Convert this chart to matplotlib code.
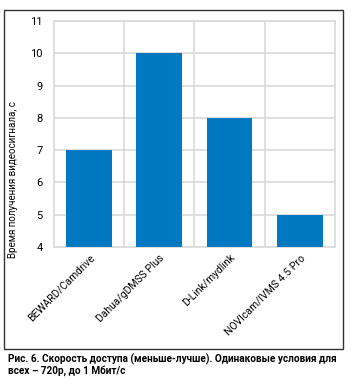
import matplotlib.pyplot as plt
from matplotlib.patches import Rectangle

systems = ['BEWARD/Camdrive', 'Dahua/gDMSS Plus', 'D-Link/mydlink', 'NOVIcam/IVMS 4.5 Pro']
access_time = [7, 10, 8, 5]

plt.rcParams['font.family'] = ['Roboto', 'DejaVu Sans']

fig = plt.figure(figsize=(3.52, 3.90), dpi=100)
ax = fig.add_axes([0.153, 0.367, 0.799, 0.579])

x = range(len(systems))
ax.bar(x, access_time, width=0.65, color='#0079c1', zorder=3)

ax.set_xlim(-0.5, len(systems) - 0.5)
ax.set_ylim(4, 11)
ax.set_yticks(range(4, 12))
ax.set_xticks(list(x))
ax.set_xticklabels(systems, rotation=45, ha='right', rotation_mode='anchor', fontsize=7.5)
ax.tick_params(axis='y', labelsize=8, length=0, pad=8)
ax.tick_params(axis='x', length=0, pad=4)

# vertical separators between categories
for b in [0.5, 1.5, 2.5]:
    ax.axvline(b, color='#d9d9d9', lw=1.2, zorder=1)
ax.yaxis.grid(True, color='#d9d9d9', lw=1.2, zorder=1)
for s in ax.spines.values():
    s.set_color('#d9d9d9')
    s.set_linewidth(1.2)

ax.set_ylabel('Время получения видеосигнала, с', fontsize=7)
ax.yaxis.set_label_coords(-0.128, 0.3)

# frame around the chart
fig.patches.append(Rectangle((4 / 352, 41 / 390), 339 / 352, 339 / 390,
                             transform=fig.transFigure, fill=False,
                             edgecolor='#333333', lw=1.0))

fig.text(8 / 352, 1 - 364.5 / 390,
         'Рис. 6. Скорость доступа (меньше-лучше). Одинаковые условия для\nвсех – 720р, до 1 Мбит/с',
         fontsize=7.2, fontweight='bold', ha='left', va='center', linespacing=1.0)

fig.savefig('out.png', dpi=100)
